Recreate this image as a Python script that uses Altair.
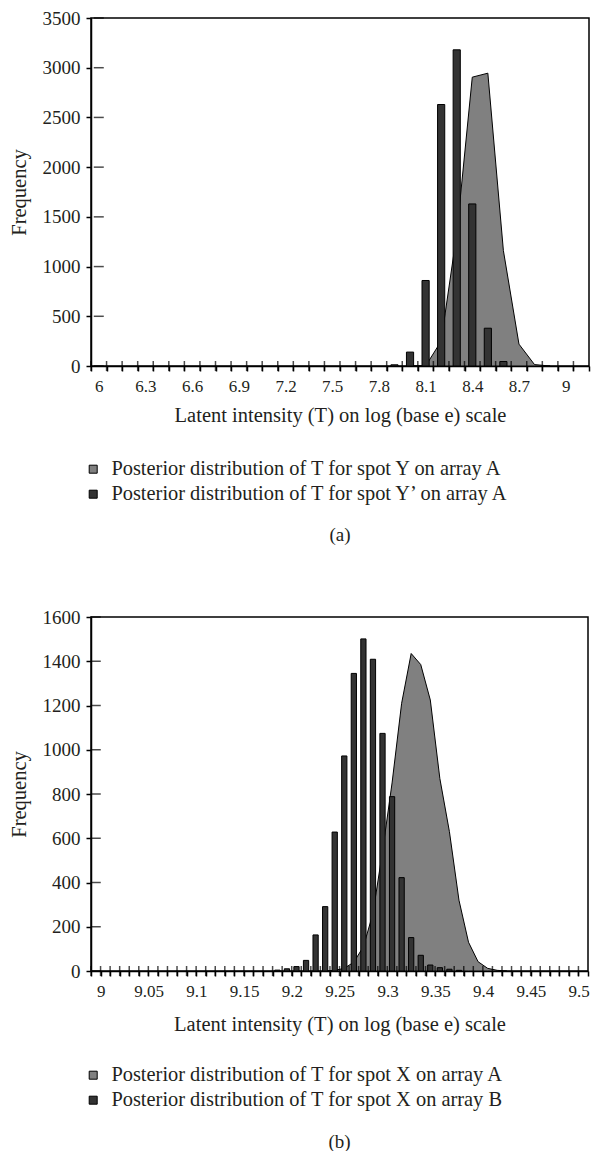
import altair as alt
import pandas as pd

FONT = "Liberation Serif"
TEXT = "#231f20"
AREA_COLOR = "#808080"
BAR_COLOR = "#333333"

# ---------------- Panel (a) ----------------
cats_a = [6.0, 6.1, 6.2, 6.3, 6.4, 6.5, 6.6, 6.7, 6.8, 6.9, 7.0, 7.1, 7.2, 7.3, 7.4, 7.5,
          7.6, 7.7, 7.8, 7.9, 8.0, 8.1, 8.2, 8.3, 8.4, 8.5, 8.6, 8.7, 8.8, 8.9, 9.0, 9.1]
area_a_T = [8.0, 8.1, 8.2, 8.3, 8.4, 8.5, 8.6, 8.7, 8.8, 8.9]
area_a_f = [0, 0, 250, 1330, 2905, 2945, 1160, 220, 14, 0]
bar_a_T = [7.9, 8.0, 8.1, 8.2, 8.3, 8.4, 8.5, 8.6]
bar_a_f = [12, 140, 860, 2630, 3180, 1630, 380, 45]
yticks_a = [0, 500, 1000, 1500, 2000, 2500, 3000, 3500]
legend_a = ["Posterior distribution of T for spot Y on array A",
            "Posterior distribution of T for spot Y\u2019 on array A"]

# ---------------- Panel (b) ----------------
cats_b = [9.0, 9.01, 9.02, 9.03, 9.04, 9.05, 9.06, 9.07, 9.08, 9.09,
          9.1, 9.11, 9.12, 9.13, 9.14, 9.15, 9.16, 9.17, 9.18, 9.19,
          9.2, 9.21, 9.22, 9.23, 9.24, 9.25, 9.26, 9.27, 9.28, 9.29,
          9.3, 9.31, 9.32, 9.33, 9.34, 9.35, 9.36, 9.37, 9.38, 9.39,
          9.4, 9.41, 9.42, 9.43, 9.44, 9.45, 9.46, 9.47, 9.48, 9.49,
          9.5, 9.51]
area_b_T = [9.24, 9.25, 9.26, 9.27, 9.28, 9.29, 9.3, 9.31, 9.32, 9.33, 9.34,
            9.35, 9.36, 9.37, 9.38, 9.39, 9.4, 9.41, 9.42, 9.43]
area_b_f = [0, 3, 12, 40, 110, 260, 540, 850, 1210, 1435, 1385,
            1225, 870, 630, 320, 130, 42, 12, 3, 0]
bar_b_T = [9.19, 9.2, 9.21, 9.22, 9.23, 9.24, 9.25, 9.26, 9.27, 9.28, 9.29,
           9.3, 9.31, 9.32, 9.33, 9.34, 9.35, 9.36, 9.37, 9.38]
bar_b_f = [4, 10, 20, 48, 163, 291, 628, 972, 1345, 1501, 1409,
           1074, 788, 422, 151, 71, 27, 15, 8, 3]
yticks_b = [0, 200, 400, 600, 800, 1000, 1200, 1400, 1600]
legend_b = ["Posterior distribution of T for spot X on array A",
            "Posterior distribution of T for spot X on array B"]

XTITLE = "Latent intensity (T) on log (base e) scale"


def panel(cats, area_T, area_f, bar_T, bar_f, names, yticks, ymax, width, height,
          label_expr, label_offset, bar_band, title_pad, legend_y, caption, cap_offset):
    area_df = pd.DataFrame({"T": area_T, "f": area_f, "s": names[0]})
    bar_df = pd.DataFrame({"T": bar_T, "f": bar_f, "s": names[1]})
    tick_df = pd.DataFrame({"T": cats, "f": [0] * len(cats)})
    ytick_df = pd.DataFrame({"T": [cats[0]] * len(yticks), "f": yticks})

    xscale = alt.Scale(domain=cats, padding=0)
    xaxis = alt.Axis(title=XTITLE, labelExpr=label_expr, labelAngle=0, tickBand="extent",
                     tickSize=5, labelPadding=7, labelOffset=label_offset,
                     labelFontSize=17, titlePadding=title_pad, grid=False)
    yscale = alt.Scale(domain=[0, ymax], nice=False)
    yaxis = alt.Axis(title="Frequency", values=yticks, format="d", grid=False,
                     tickSize=5, labelPadding=6, labelFontSize=19, titlePadding=13)
    color = alt.Color("s:N",
                      scale=alt.Scale(domain=names, range=[AREA_COLOR, BAR_COLOR]),
                      legend=alt.Legend(title=None, orient="none", legendX=-8,
                                        legendY=legend_y, direction="vertical",
                                        symbolType="square", symbolSize=64,
                                        symbolStrokeColor="black", symbolStrokeWidth=1,
                                        labelFont=FONT, labelFontSize=20.4,
                                        labelColor=TEXT, rowPadding=4, labelOffset=8,
                                        padding=0, labelLimit=700))

    area = alt.Chart(area_df).mark_area(stroke="black", strokeWidth=1, opacity=1).encode(
        x=alt.X("T:O", scale=xscale, axis=xaxis, bandPosition=0.5),
        y=alt.Y("f:Q", scale=yscale, axis=yaxis),
        color=color,
    )
    bars = alt.Chart(bar_df).mark_bar(stroke="black", strokeWidth=1,
                                      width=alt.RelativeBandSize(bar_band)).encode(
        x=alt.X("T:O", scale=xscale, axis=xaxis),
        y=alt.Y("f:Q", scale=yscale, axis=yaxis),
        color=color,
    )
    # cross-style tick marks on the category axis (at category boundaries)
    xticks = alt.Chart(tick_df).mark_tick(orient="vertical", size=10, thickness=1.5,
                                          color="black").encode(
        x=alt.X("T:O", scale=xscale, axis=xaxis, bandPosition=0),
        y=alt.Y("f:Q", scale=yscale, axis=yaxis),
    )
    # cross-style tick marks on the value axis
    yticks_l = alt.Chart(ytick_df).mark_tick(orient="horizontal", size=10, thickness=1.5,
                                             color="black").encode(
        x=alt.X("T:O", scale=xscale, axis=xaxis, bandPosition=0),
        y=alt.Y("f:Q", scale=yscale, axis=yaxis),
    )
    return alt.layer(area, bars, xticks, yticks_l).properties(
        width=width, height=height,
        title=alt.TitleParams(caption, orient="bottom", anchor="middle", font=FONT,
                              fontSize=19, fontWeight="normal", color=TEXT,
                              offset=cap_offset),
    )


chart_a = panel(cats_a, area_a_T, area_a_f, bar_a_T, bar_a_f, legend_a, yticks_a, 3500,
                498, 348, "round(datum.value*10) % 3 === 0 ? datum.label : ''", 0, 0.46,
                11, 348 + 93, "(a)", 21)
chart_b = panel(cats_b, area_b_T, area_b_f, bar_b_T, bar_b_f, legend_b, yticks_b, 1600,
                497, 354, "round(datum.value*100) % 5 === 0 ? datum.label : ''", 5, 0.55,
                15, 354 + 94, "(b)", 22)

chart = alt.vconcat(chart_a, chart_b, spacing=61).resolve_scale(
    color="independent", x="independent", y="independent"
).properties(padding=0).configure_view(
    stroke="black", strokeWidth=1.5
).configure_axis(
    domainColor="black", domainWidth=1.5, tickColor="black", tickWidth=1.5,
    labelFont=FONT, labelColor=TEXT,
    titleFont=FONT, titleFontSize=20.5, titleFontWeight="normal", titleColor=TEXT,
)

chart.save("out.html", embed_options={"renderer": "svg", "actions": False})
